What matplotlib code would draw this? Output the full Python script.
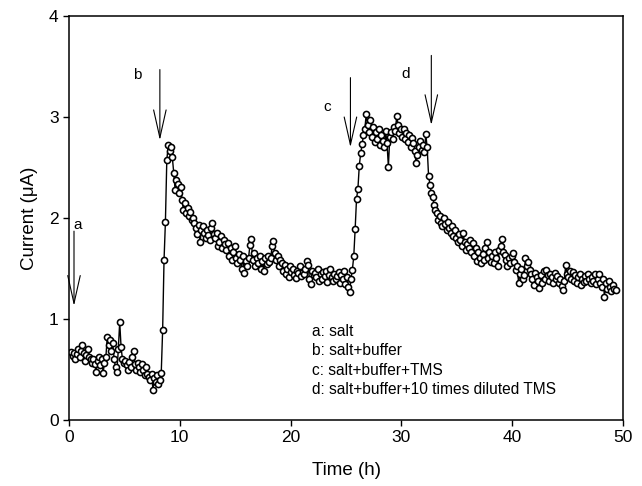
import matplotlib
matplotlib.use("Agg")
import matplotlib.pyplot as plt
import numpy as np

plt.rcParams["font.family"] = ["Liberation Sans", "DejaVu Sans"]

# sampling: one reading every 0.125 h starting at 0.2 h
t_start = 0.2
t_step = 0.125

current = [
    # 0.2 h
    0.67, 0.63, 0.66, 0.60, 0.65, 0.70, 0.62, 0.68,
    0.74, 0.66, 0.58, 0.64, 0.70, 0.62, 0.60, 0.56,
    0.60, 0.55, 0.48, 0.58, 0.62, 0.54, 0.60, 0.47,
    0.56, 0.62, 0.82, 0.74, 0.79, 0.68, 0.76, 0.60,
    0.52, 0.48, 0.70, 0.97, 0.72, 0.60, 0.56, 0.58,
    0.54, 0.50, 0.57, 0.52, 0.62, 0.68, 0.55, 0.50,
    0.56, 0.52, 0.48, 0.55, 0.50, 0.45, 0.52, 0.46,
    0.43, 0.40, 0.46, 0.30, 0.42, 0.38, 0.45, 0.36,
    # 8.2 h, b added
    0.40, 0.47, 0.89, 1.58, 1.96, 2.57, 2.72, 2.66,
    2.70, 2.60, 2.45, 2.28, 2.38, 2.34, 2.25, 2.31,
    2.18, 2.08, 2.15, 2.05, 2.10, 2.02, 2.06, 1.98,
    2.00, 1.95, 1.90, 1.84, 1.93, 1.76, 1.88, 1.92,
    1.85, 1.80, 1.88, 1.83, 1.78, 1.90, 1.95, 1.84,
    1.80, 1.85, 1.72, 1.76, 1.82, 1.70, 1.78, 1.74,
    1.68, 1.75, 1.62, 1.70, 1.58, 1.66, 1.72, 1.60,
    1.55, 1.64, 1.58, 1.50, 1.62, 1.46, 1.57, 1.52,
    1.60, 1.73, 1.79, 1.58, 1.65, 1.52, 1.60, 1.55,
    1.62, 1.50, 1.57, 1.48, 1.60, 1.54, 1.62, 1.56,
    1.60, 1.72, 1.77, 1.65, 1.58, 1.62, 1.52, 1.58,
    1.55, 1.48, 1.53, 1.45, 1.50, 1.42, 1.52, 1.47,
    1.50, 1.44, 1.41, 1.48, 1.46, 1.52, 1.43, 1.47,
    1.45, 1.50, 1.57, 1.53, 1.40, 1.35, 1.48, 1.44,
    1.46, 1.42, 1.50, 1.38, 1.45, 1.40, 1.47, 1.43,
    1.48, 1.37, 1.44, 1.50, 1.42, 1.38, 1.45, 1.40,
    1.43, 1.47, 1.36, 1.44, 1.40, 1.48, 1.35, 1.42,
    # 25.2 h, c added
    1.32, 1.27, 1.40, 1.49, 1.62, 1.89, 2.19, 2.29,
    2.52, 2.64, 2.73, 2.82, 2.88, 3.03, 2.92, 2.85,
    2.97, 2.80, 2.90, 2.75, 2.85, 2.78, 2.88, 2.72,
    2.82, 2.76, 2.70, 2.86, 2.74, 2.51, 2.80, 2.85,
    2.78, 2.90, 2.86, 3.01, 2.92, 2.84, 2.88, 2.80,
    2.88, 2.78, 2.84, 2.75, 2.82, 2.70, 2.79, 2.74,
    2.66, 2.54, 2.62, 2.70, 2.76, 2.67, 2.72, 2.65,
    # 32.2 h, d added
    2.83, 2.70, 2.42, 2.33, 2.25, 2.21, 2.13, 2.08,
    2.05, 1.98, 2.02, 1.95, 1.92, 2.00, 1.94, 1.88,
    1.96, 1.90, 1.85, 1.92, 1.82, 1.88, 1.80, 1.76,
    1.84, 1.78, 1.72, 1.85, 1.76, 1.68, 1.74, 1.70,
    1.78, 1.66, 1.75, 1.62, 1.70, 1.57, 1.66, 1.60,
    1.55, 1.64, 1.58, 1.70, 1.76, 1.60, 1.66, 1.56,
    1.62, 1.55, 1.66, 1.60, 1.52, 1.68, 1.72, 1.79,
    1.66, 1.63, 1.58, 1.52, 1.60, 1.55, 1.62, 1.65,
    1.56, 1.49, 1.52, 1.36, 1.45, 1.50, 1.40, 1.44,
    1.60, 1.52, 1.56, 1.49, 1.45, 1.40, 1.34, 1.46,
    1.42, 1.38, 1.31, 1.44, 1.36, 1.48, 1.40, 1.49,
    1.44, 1.38, 1.45, 1.42, 1.36, 1.46, 1.40, 1.43,
    1.36, 1.40, 1.33, 1.29, 1.38, 1.53, 1.45, 1.42,
    1.48, 1.40, 1.47, 1.38, 1.44, 1.36, 1.42, 1.45,
    1.34, 1.40, 1.37, 1.43, 1.38, 1.45, 1.40, 1.36,
    1.42, 1.38, 1.45, 1.35, 1.40, 1.45, 1.36, 1.32,
    1.40, 1.22, 1.36, 1.30, 1.38, 1.32, 1.28, 1.34,
    1.30, 1.29,
]

# addition events: label, time, arrow top, arrow tip, label position
event_labels = ["a", "b", "c", "d"]
event_times = [0.45, 8.2, 25.4, 32.7]
arrow_tops = [1.87, 3.47, 3.39, 3.61]
arrow_tips = [1.13, 2.77, 2.70, 2.92]
label_xy = [(0.75, 1.93), (6.2, 3.42), (23.3, 3.1), (30.4, 3.43)]

legend_lines = [
    "a: salt",
    "b: salt+buffer",
    "c: salt+buffer+TMS",
    "d: salt+buffer+10 times diluted TMS",
]

time = t_start + t_step * np.arange(len(current))

fig = plt.figure(figsize=(6.42, 4.86), dpi=100)
ax = fig.add_axes([0.1075, 0.1358, 0.8629, 0.8312])

ax.plot(time, current, color="black", linewidth=1.0, marker="o",
        markersize=4.4, markerfacecolor="white", markeredgecolor="black",
        markeredgewidth=1.15)

for lab, tx, top, tip, (lx, ly) in zip(event_labels, event_times, arrow_tops,
                                       arrow_tips, label_xy):
    ax.annotate("", xy=(tx, tip), xytext=(tx, top),
                arrowprops=dict(arrowstyle="->,head_length=2.0,head_width=0.45",
                                color="black", linewidth=0.8,
                                shrinkA=0, shrinkB=0, mutation_scale=10))
    ax.text(lx, ly, lab, ha="center", va="center", fontsize=11)

for k, line in enumerate(legend_lines):
    ax.text(21.9, 0.874 - 0.19 * k, line, ha="left", va="center", fontsize=11.2)

ax.set_xlim(0, 50)
ax.set_ylim(0, 4)
ax.set_xticks([0, 10, 20, 30, 40, 50])
ax.set_yticks([0, 1, 2, 3, 4])
ax.tick_params(direction="out", length=4, width=1, labelsize=12.5, top=False,
               right=False)
for side in ax.spines.values():
    side.set_linewidth(1.1)

ax.set_xlabel("Time (h)", fontsize=13.5, labelpad=12)
ax.set_ylabel("Current (μA)", fontsize=13.5, labelpad=8)

fig.savefig("out.png", dpi=100)
